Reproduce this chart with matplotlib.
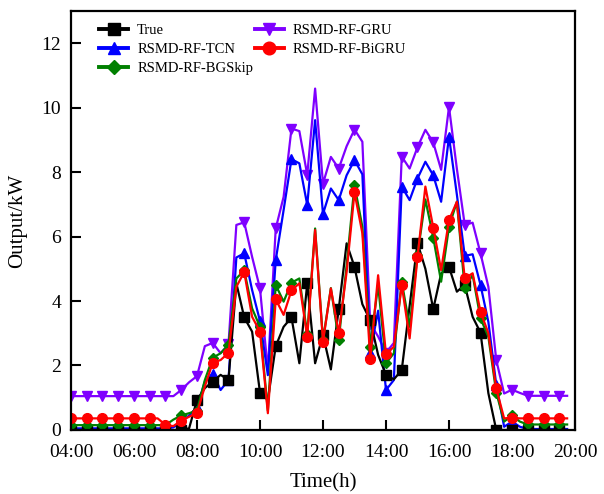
import numpy as np
import matplotlib
matplotlib.use("Agg")
import matplotlib.pyplot as plt

plt.rcParams['font.family'] = ['Liberation Serif', 'DejaVu Serif']
plt.rcParams['mathtext.fontset'] = 'stix'

# 15-min samples from 04:00 to 19:45
hours = 4 + 0.25 * np.arange(64)

true_vals = [0] * 14 + [0, 0.05, 0.93, 1.3, 1.5, 1.71, 1.55, 4.55, 3.49, 3.05,
             1.16, 0.93, 2.6, 3.2, 3.49, 2.07, 4.55, 2.07, 2.95, 1.88,
             3.75, 5.79, 5.06, 3.9, 3.4, 2.33, 1.71, 1.57, 1.86, 3.85,
             5.8, 5.0, 3.75, 4.85, 5.06, 4.29, 4.5, 3.51, 3.02, 1.14] + [0] * 10

tcn_vals = [0.05] * 13 + [0.08, 0.25, 0.45, 0.7, 1.5, 1.75, 1.24, 1.55, 5.35, 5.48,
            4.34, 3.38, 1.7, 5.27, 6.82, 8.4, 8.27, 6.98, 9.61, 6.7,
            7.49, 7.13, 7.9, 8.37, 7.93, 2.4, 3.7, 1.24, 1.55, 7.55,
            7.13, 7.8, 8.32, 7.9, 7.08, 9.1, 7.3, 5.4, 5.45, 4.5,
            3.35, 1.4, 0.1, 0.26, 0.1] + [0.03] * 6

bgskip_vals = [0.15] * 13 + [0.32, 0.45, 0.52, 0.6, 1.55, 2.24, 2.38, 2.64, 4.7, 4.95,
               3.77, 3.2, 0.6, 4.5, 3.98, 4.57, 4.7, 2.98, 6.25, 2.79,
               4.4, 2.79, 5.1, 7.6, 6.3, 2.58, 4.5, 2.07, 2.38, 4.6,
               3.2, 5.43, 7.15, 5.97, 4.6, 6.3, 7.08, 4.39, 4.81, 3.46,
               2.89, 1.16, 0.26, 0.45, 0.26] + [0.17] * 6

gru_vals = [1.05] * 14 + [1.24, 1.48, 1.67, 2.6, 2.7, 2.38, 2.66, 6.36, 6.44,
            5.37, 4.39, 1.85, 6.25, 7.23, 9.35, 9.27, 7.91, 10.59, 7.64,
            8.47, 8.11, 8.8, 9.32, 8.94, 3.3, 2.9, 2.4, 2.7, 8.48,
            8.11, 8.77, 9.31, 8.92, 8.07, 10.02, 8.1, 6.36, 6.43, 5.48,
            4.44, 2.17, 1.13, 1.25, 1.15] + [1.06] * 6

bigru_vals = [0.36] * 12 + [0.16, 0.12, 0.29, 0.41, 0.52, 1.35, 2.09, 2.17, 2.39, 4.44, 4.9,
              3.51, 3.05, 0.52, 4.05, 3.57, 4.33, 4.55, 2.89, 6.2, 2.74,
              4.39, 3.0, 4.9, 7.37, 6.1, 2.2, 4.8, 2.35, 2.58, 4.5,
              2.84, 5.36, 7.55, 6.28, 4.96, 6.51, 7.08, 4.7, 4.86, 3.67,
              3.0, 1.29, 0.36, 0.38] + [0.36] * 7

xtick_hours = [4, 6, 8, 10, 12, 14, 16, 18, 20]
xtick_labels = ['04:00', '06:00', '08:00', '10:00', '12:00', '14:00', '16:00', '18:00', '20:00']

fig = plt.figure(figsize=(6.04, 4.94), dpi=100)
ax = fig.add_axes([0.1175, 0.1296, 0.8345, 0.8484])

kw = dict(lw=1.6, markevery=2)
h_gru, = ax.plot(hours, gru_vals, color='#7F00FF', marker='v', ms=7, label='RSMD-RF-GRU', **kw)
h_tcn, = ax.plot(hours, tcn_vals, color='#0000FF', marker='^', ms=7, label='RSMD-RF-TCN', **kw)
h_true, = ax.plot(hours, true_vals, color='black', marker='s', ms=6.5, label='True', **kw)
h_bgs, = ax.plot(hours, bgskip_vals, color='#008000', marker='D', ms=5.5, label='RSMD-RF-BGSkip', **kw)
h_bi, = ax.plot(hours, bigru_vals, color='#FF0000', marker='o', ms=7, label='RSMD-RF-BiGRU', **kw)

ax.set_xlim(4, 20)
ax.set_ylim(0, 13)
ax.set_xticks(xtick_hours)
ax.set_xticklabels(xtick_labels)
ax.set_yticks(range(0, 13, 2))
ax.tick_params(direction='in', length=7, width=1.5, labelsize=14)
ax.tick_params(axis='x', pad=10)
ax.tick_params(axis='y', pad=7)
for s in ax.spines.values():
    s.set_linewidth(1.6)

ax.set_xlabel('Time(h)', fontsize=15, labelpad=9)
ax.set_ylabel('Output/kW', fontsize=15, labelpad=10)

leg = ax.legend(handles=[h_true, h_tcn, h_bgs, h_gru, h_bi], loc='upper left',
                bbox_to_anchor=(0.03, 1.0), ncol=2, frameon=False, fontsize=10.5,
                labelspacing=0.4, columnspacing=0.1, handlelength=2.0,
                handletextpad=0.6, markerscale=1.3)
for line in leg.get_lines():
    line.set_linewidth(2.8)

fig.savefig('out.png', dpi=100)
